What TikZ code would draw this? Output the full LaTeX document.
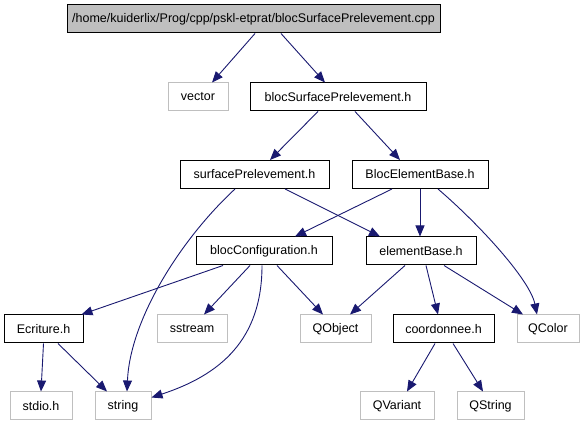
\documentclass[tikz,border=0pt]{standalone}
\usepackage{fontspec}
\setmainfont{Liberation Sans}
\usetikzlibrary{arrows.meta}
\definecolor{edgeblue}{HTML}{191970}
\definecolor{extgray}{HTML}{BFBFBF}
\definecolor{rootgray}{HTML}{BFBFBF}
\tikzset{
  file/.style={draw=black,line width=1pt,minimum height=28pt,inner sep=0pt,font=\fontsize{12.5}{15}\selectfont},
  extfile/.style={file,draw=extgray},
  rootfile/.style={file,fill=rootgray},
  inc/.style={-{Triangle[length=11pt,width=9pt]},draw=edgeblue,line width=0.9pt}
}
\begin{document}
\begin{tikzpicture}[x=1pt,y=-1pt]
\useasboundingbox (0,0) rectangle (584,427);
\node[rootfile,minimum width=373pt] (root) at (253.5,19) {/home/kuiderlix/Prog/cpp/pskl-etprat/blocSurfacePrelevement.cpp};
\node[extfile,minimum width=60pt] (vector) at (198,97) {vector};
\node[file,minimum width=176pt] (bsp) at (338,97) {blocSurfacePrelevement.h};
\node[file,minimum width=149pt] (sp) at (254.5,174.5) {surfacePrelevement.h};
\node[file,minimum width=136pt] (beb) at (420,174.5) {BlocElementBase.h};
\node[file,minimum width=136pt] (bc) at (264,251) {blocConfiguration.h};
\node[file,minimum width=110pt] (eb) at (421,251) {elementBase.h};
\node[file,minimum width=79pt] (ecr) at (43.5,329) {Ecriture.h};
\node[extfile,minimum width=70pt] (sstream) at (192,329) {sstream};
\node[extfile,minimum width=71pt] (qobject) at (335.5,329) {QObject};
\node[file,minimum width=101pt] (coord) at (443.5,329) {coordonnee.h};
\node[extfile,minimum width=62pt] (qcolor) at (548,329) {QColor};
\node[extfile,minimum width=62pt] (stdio) at (41,406) {stdio.h};
\node[extfile,minimum width=56pt] (string) at (123,406) {string};
\node[extfile,minimum width=74pt] (qvariant) at (397,406) {QVariant};
\node[extfile,minimum width=67pt] (qstring) at (490.5,406) {QString};
\draw[inc] ([xshift=1.5pt]root.south) -- ([xshift=14pt]vector.north);
\draw[inc] ([xshift=27.5pt]root.south) -- ([xshift=-13pt]bsp.north);
\draw[inc] ([xshift=-20pt]bsp.south) -- ([xshift=15.5pt]sp.north);
\draw[inc] ([xshift=17pt]bsp.south) -- ([xshift=-20pt]beb.north);
\draw[inc] ([xshift=-19.5pt]sp.south) .. controls (180,240) and (130,320) .. ([xshift=4pt]string.north);
\draw[inc] ([xshift=30.5pt]sp.south) -- ([xshift=-41pt]eb.north);
\draw[inc] ([xshift=-28pt]beb.south) -- ([xshift=31pt]bc.north);
\draw[inc] (beb.south) -- ([xshift=-1pt]eb.north);
\draw[inc] ([xshift=18pt]beb.south) .. controls (480,225) and (530,280) .. ([xshift=-11pt]qcolor.north);
\draw[inc] ([xshift=-41pt]bc.south) -- ([xshift=-2pt]ecr.north east);
\draw[inc] ([xshift=-14pt]bc.south) -- ([xshift=12pt]sstream.north);
\draw[inc] ([xshift=-2pt]bc.south) .. controls (262,340) and (220,375) .. ([yshift=-6pt]string.north east);
\draw[inc] ([xshift=13pt]bc.south) -- ([xshift=-12.5pt]qobject.north);
\draw[inc] ([xshift=-16pt]eb.south) -- ([xshift=14.5pt]qobject.north);
\draw[inc] ([xshift=5pt]eb.south) -- ([xshift=-5.5pt]coord.north);
\draw[inc] ([xshift=23pt]eb.south) -- ([xshift=-25pt]qcolor.north);
\draw[inc] (ecr.south) -- (stdio.north);
\draw[inc] ([xshift=14.5pt]ecr.south) -- ([xshift=-16pt]string.north);
\draw[inc] ([xshift=-8.5pt]coord.south) -- ([xshift=10pt]qvariant.north);
\draw[inc] ([xshift=9.5pt]coord.south) -- ([xshift=-7.5pt]qstring.north);
\end{tikzpicture}
\end{document}
